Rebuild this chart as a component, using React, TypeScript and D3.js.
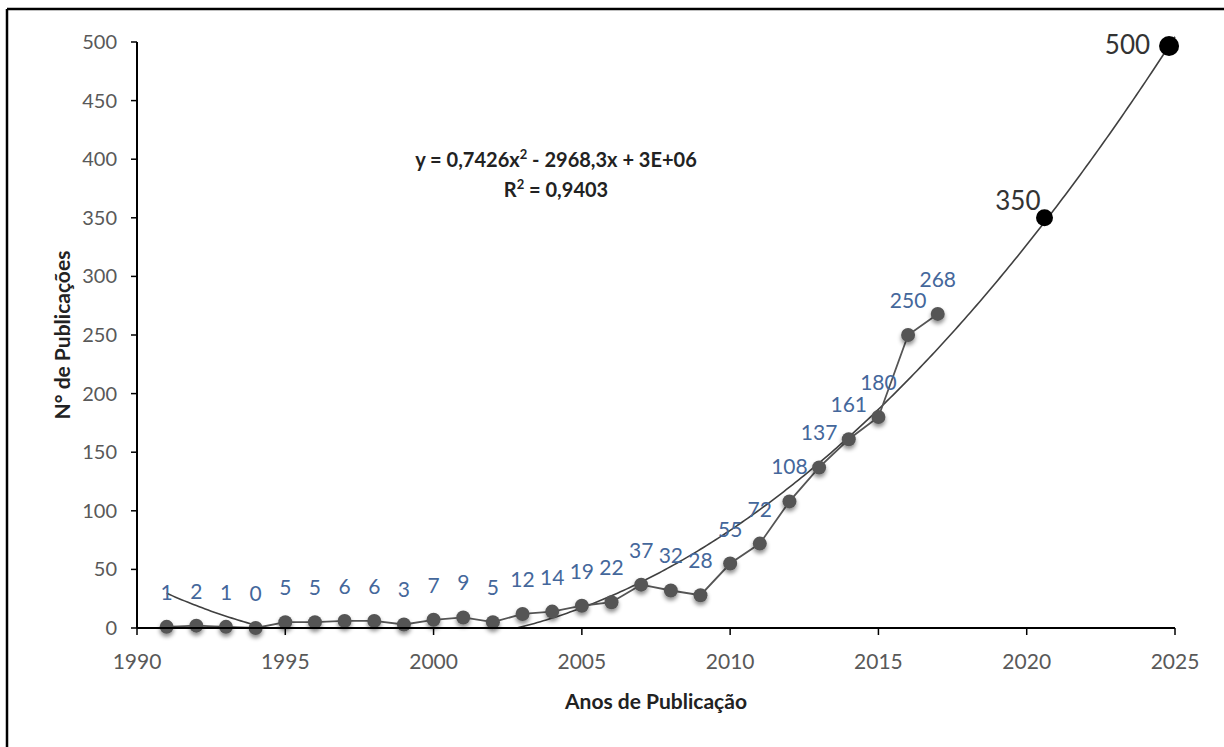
import * as d3 from "d3";

// publications per year (1991-2017)
const years = [
  1991, 1992, 1993, 1994, 1995, 1996, 1997, 1998, 1999, 2000, 2001, 2002, 2003, 2004,
  2005, 2006, 2007, 2008, 2009, 2010, 2011, 2012, 2013, 2014, 2015, 2016, 2017,
];
const pubs = [
  1, 2, 1, 0, 5, 5, 6, 6, 3, 7, 9, 5, 12, 14, 19, 22, 37, 32, 28, 55, 72, 108, 137, 161, 180,
  250, 268,
];
// projected points
const projYears = [2020.6, 2024.8];
const projValues = [350, 500];

const xTicks = [1990, 1995, 2000, 2005, 2010, 2015, 2020, 2025];
const yTicks = [0, 50, 100, 150, 200, 250, 300, 350, 400, 450, 500];

const equation = ["y = 0,7426x", "2", " - 2968,3x + 3E+06"];
const rSquared = ["R", "2", " = 0,9403"];

const FONT = "Lato, 'Open Sans', sans-serif";

// least squares quadratic on t = year - 1990
function fitQuadratic(xs: number[], ys: number[]) {
  const s = [0, 0, 0, 0, 0];
  const r = [0, 0, 0];
  xs.forEach((x, i) => {
    const t = x - 1990;
    for (let k = 0; k < 5; k++) s[k] += Math.pow(t, k);
    for (let k = 0; k < 3; k++) r[k] += Math.pow(t, k) * ys[i];
  });
  const m = [
    [s[0], s[1], s[2], r[0]],
    [s[1], s[2], s[3], r[1]],
    [s[2], s[3], s[4], r[2]],
  ];
  for (let i = 0; i < 3; i++) {
    for (let j = i + 1; j < 3; j++) {
      const f = m[j][i] / m[i][i];
      for (let k = i; k < 4; k++) m[j][k] -= f * m[i][k];
    }
  }
  const c = [0, 0, 0];
  for (let i = 2; i >= 0; i--) {
    let v = m[i][3];
    for (let k = i + 1; k < 3; k++) v -= m[i][k] * c[k];
    c[i] = v / m[i][i];
  }
  return (year: number) => c[0] + c[1] * (year - 1990) + c[2] * (year - 1990) ** 2;
}

const App = () => {
  const width = 1224;
  const height = 747;
  const left = 137;
  const right = 1175;
  const top = 42;
  const bottom = 628;

  const x = d3.scaleLinear().domain([1990, 2025]).range([left, right]);
  const y = d3.scaleLinear().domain([0, 500]).range([bottom, top]);

  const trend = fitQuadratic(years, pubs);
  const trendYears = d3.range(1991, 2025.01, 0.1);
  const trendLine = d3
    .line<number>()
    .x((d) => x(d))
    .y((d) => y(trend(d)))(trendYears);

  const seriesLine = d3
    .line<number>()
    .x((_, i) => x(years[i]))
    .y((d) => y(d))(pubs);

  return (
    <svg
      width={width}
      height={height}
      style={{ display: "block", position: "absolute", left: 0, top: 0, background: "#fff" }}
    >
      <defs>
        <clipPath id="plot">
          <rect x={left} y={top - 12} width={right - left + 12} height={bottom - top + 12} />
        </clipPath>
        <filter id="shadow" x="-50%" y="-50%" width="200%" height="250%">
          <feDropShadow dx="0" dy="3" stdDeviation="2" floodColor="#000" floodOpacity="0.45" />
        </filter>
      </defs>

      {/* frame */}
      <line x1={7} x2={7} y1={9} y2={height} stroke="#000" strokeWidth={2.5} />
      <line x1={7} x2={width} y1={9} y2={9} stroke="#000" strokeWidth={2.5} />

      {/* trend line */}
      <path d={trendLine ?? ""} fill="none" stroke="#404040" strokeWidth={1.6} clipPath="url(#plot)" />

      {/* series */}
      <path d={seriesLine ?? ""} fill="none" stroke="#555" strokeWidth={1.8} />
      {pubs.map((d, i) => (
        <circle key={i} cx={x(years[i])} cy={y(d)} r={7} fill="#555" filter="url(#shadow)" />
      ))}
      {pubs.map((d, i) => (
        <text
          key={i}
          x={x(years[i])}
          y={y(d) - 27}
          textAnchor="middle"
          fontFamily={FONT}
          fontSize={21}
          fill="#44679b"
        >
          {d}
        </text>
      ))}

      {/* projection */}
      {projValues.map((d, i) => (
        <g key={i}>
          <circle cx={x(projYears[i])} cy={y(d) + (i === 1 ? 4 : 0)} r={i === 1 ? 10 : 8.5} fill="#000" />
          <text
            x={x(projYears[i]) - (i === 1 ? 19 : 4)}
            y={y(d) + (i === 1 ? 12 : -8)}
            textAnchor="end"
            fontFamily={FONT}
            fontSize={26}
            fill="#333"
          >
            {d}
          </text>
        </g>
      ))}

      {/* axes */}
      <line x1={left} x2={left} y1={top} y2={bottom} stroke="#000" strokeWidth={2} />
      <line x1={left} x2={right} y1={bottom} y2={bottom} stroke="#000" strokeWidth={2} />
      {yTicks.map((t) => (
        <g key={t}>
          <line x1={left - 6} x2={left} y1={y(t)} y2={y(t)} stroke="#000" strokeWidth={1.5} />
          <text
            x={left - 20}
            y={y(t) + 7}
            textAnchor="end"
            fontFamily={FONT}
            fontSize={20}
            fill="#595959"
          >
            {t}
          </text>
        </g>
      ))}
      {xTicks.map((t) => (
        <g key={t}>
          <line x1={x(t)} x2={x(t)} y1={bottom} y2={bottom + 7} stroke="#000" strokeWidth={1.5} />
          <text
            x={x(t)}
            y={bottom + 41}
            textAnchor="middle"
            fontFamily={FONT}
            fontSize={21}
            fill="#595959"
          >
            {t}
          </text>
        </g>
      ))}

      {/* axis titles */}
      <text
        x={656}
        y={709}
        textAnchor="middle"
        fontFamily={FONT}
        fontWeight="bold"
        fontSize={21}
        fill="#222"
      >
        Anos de Publicação
      </text>
      <text
        transform="translate(70,335) rotate(-90)"
        textAnchor="middle"
        fontFamily={FONT}
        fontWeight="bold"
        fontSize={21}
        fill="#222"
      >
        N° de Publicações
      </text>

      {/* regression */}
      <text x={556} y={167} textAnchor="middle" fontFamily={FONT} fontWeight="bold" fontSize={20} fill="#222">
        {equation[0]}
        <tspan dy={-8} fontSize={13}>
          {equation[1]}
        </tspan>
        <tspan dy={8}>{equation[2]}</tspan>
      </text>
      <text x={556} y={197} textAnchor="middle" fontFamily={FONT} fontWeight="bold" fontSize={20} fill="#222">
        {rSquared[0]}
        <tspan dy={-8} fontSize={13}>
          {rSquared[1]}
        </tspan>
        <tspan dy={8}>{rSquared[2]}</tspan>
      </text>
    </svg>
  );
};

export default App;
